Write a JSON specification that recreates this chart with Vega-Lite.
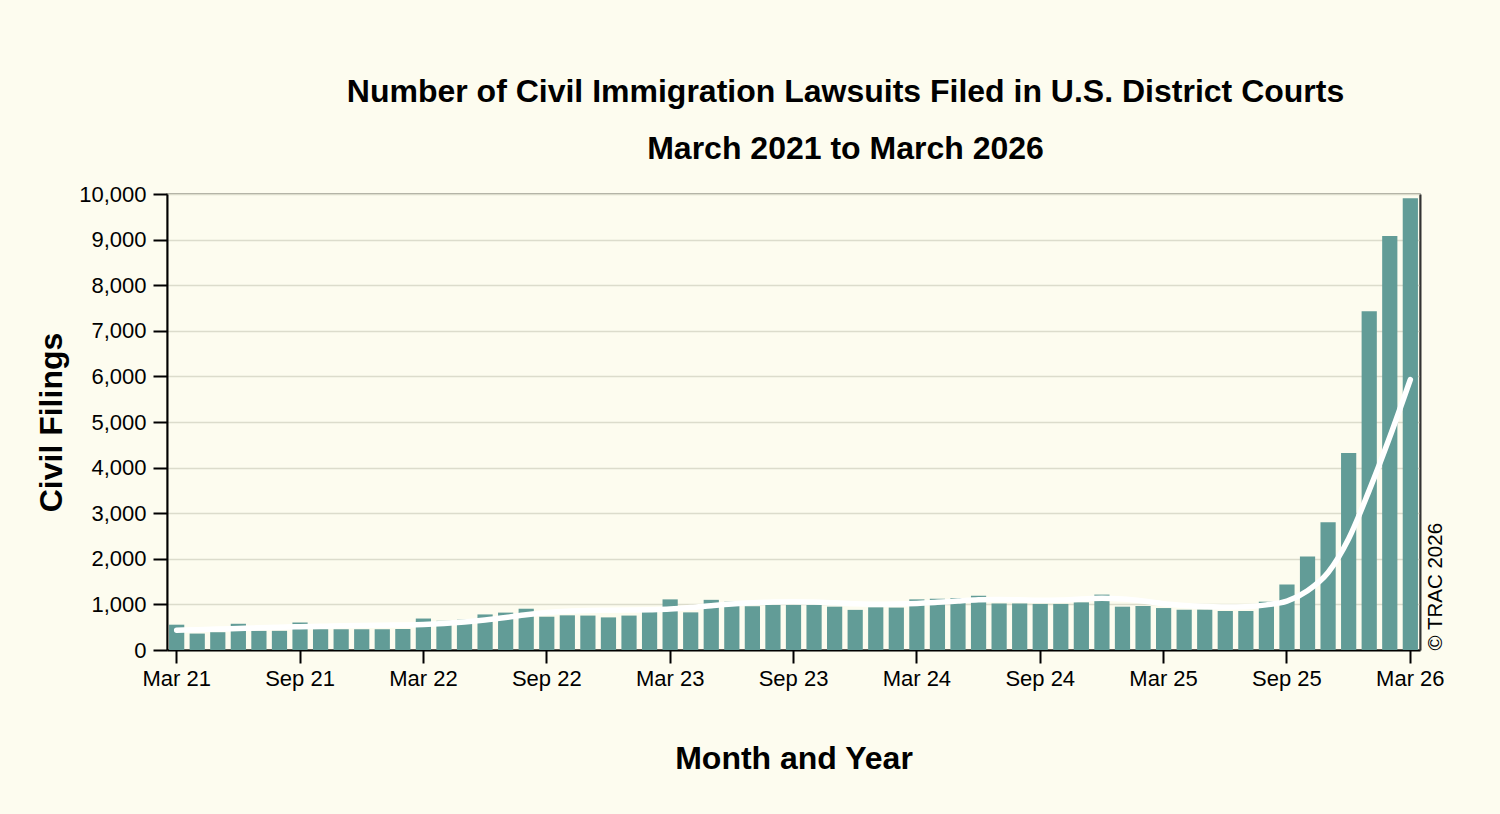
{
  "$schema": "https://vega.github.io/schema/vega-lite/v6.json",
  "autosize": {"type": "none"},
  "padding": {"left": 167, "top": 194, "right": 80, "bottom": 164},
  "width": 1253,
  "height": 456,
  "background": "#fdfcef",
  "title": {
    "text": "Number of Civil Immigration Lawsuits Filed in U.S. District Courts",
    "subtitle": "March 2021 to March 2026",
    "font": "Liberation Sans",
    "fontSize": 32,
    "fontWeight": "bold",
    "color": "#000000",
    "subtitleFont": "Liberation Sans",
    "subtitleFontSize": 32,
    "subtitleFontWeight": "bold",
    "subtitleColor": "#000000",
    "subtitlePadding": 25,
    "anchor": "middle",
    "frame": "group",
    "dx": 52,
    "offset": 17
  },
  "config": {
    "view": {"stroke": "#8a8a80", "strokeWidth": 1.5},
    "axis": {
      "labelFont": "Liberation Sans",
      "titleFont": "Liberation Sans",
      "labelFontSize": 22,
      "labelColor": "#000000",
      "titleColor": "#000000",
      "titleFontSize": 32,
      "titleFontWeight": "bold",
      "domainColor": "#000000",
      "domainWidth": 2,
      "tickColor": "#000000",
      "tickWidth": 2,
      "tickSize": 13,
      "gridColor": "#dcdccc",
      "gridWidth": 1.5
    }
  },
  "data": {
    "values": [
      {"month": "Mar 21", "filings": 555, "trend": 435},
      {"month": "Apr 21", "filings": 360, "trend": 445},
      {"month": "May 21", "filings": 390, "trend": 458},
      {"month": "Jun 21", "filings": 575, "trend": 472},
      {"month": "Jul 21", "filings": 420, "trend": 486},
      {"month": "Aug 21", "filings": 420, "trend": 498},
      {"month": "Sep 21", "filings": 605, "trend": 510},
      {"month": "Oct 21", "filings": 455, "trend": 520},
      {"month": "Nov 21", "filings": 455, "trend": 530},
      {"month": "Dec 21", "filings": 455, "trend": 538},
      {"month": "Jan 22", "filings": 455, "trend": 545},
      {"month": "Feb 22", "filings": 460, "trend": 550},
      {"month": "Mar 22", "filings": 690, "trend": 560},
      {"month": "Apr 22", "filings": 640, "trend": 582},
      {"month": "May 22", "filings": 665, "trend": 615},
      {"month": "Jun 22", "filings": 780, "trend": 658},
      {"month": "Jul 22", "filings": 820, "trend": 712},
      {"month": "Aug 22", "filings": 905, "trend": 772},
      {"month": "Sep 22", "filings": 730, "trend": 820},
      {"month": "Oct 22", "filings": 760, "trend": 852},
      {"month": "Nov 22", "filings": 755, "trend": 866},
      {"month": "Dec 22", "filings": 715, "trend": 872},
      {"month": "Jan 23", "filings": 755, "trend": 877},
      {"month": "Feb 23", "filings": 910, "trend": 884},
      {"month": "Mar 23", "filings": 1110, "trend": 898},
      {"month": "Apr 23", "filings": 825, "trend": 930},
      {"month": "May 23", "filings": 1100, "trend": 972},
      {"month": "Jun 23", "filings": 1060, "trend": 1010},
      {"month": "Jul 23", "filings": 960, "trend": 1038},
      {"month": "Aug 23", "filings": 990, "trend": 1055},
      {"month": "Sep 23", "filings": 990, "trend": 1060},
      {"month": "Oct 23", "filings": 990, "trend": 1052},
      {"month": "Nov 23", "filings": 950, "trend": 1035},
      {"month": "Dec 23", "filings": 880, "trend": 1015},
      {"month": "Jan 24", "filings": 935, "trend": 1005},
      {"month": "Feb 24", "filings": 930, "trend": 1008},
      {"month": "Mar 24", "filings": 1110, "trend": 1020},
      {"month": "Apr 24", "filings": 1125, "trend": 1045},
      {"month": "May 24", "filings": 1140, "trend": 1075},
      {"month": "Jun 24", "filings": 1190, "trend": 1100},
      {"month": "Jul 24", "filings": 1020, "trend": 1108},
      {"month": "Aug 24", "filings": 1020, "trend": 1100},
      {"month": "Sep 24", "filings": 1010, "trend": 1092},
      {"month": "Oct 24", "filings": 1010, "trend": 1098},
      {"month": "Nov 24", "filings": 1045, "trend": 1118},
      {"month": "Dec 24", "filings": 1215, "trend": 1135},
      {"month": "Jan 25", "filings": 950, "trend": 1118},
      {"month": "Feb 25", "filings": 965, "trend": 1075},
      {"month": "Mar 25", "filings": 920, "trend": 1015},
      {"month": "Apr 25", "filings": 885, "trend": 978},
      {"month": "May 25", "filings": 885, "trend": 955},
      {"month": "Jun 25", "filings": 855, "trend": 942},
      {"month": "Jul 25", "filings": 855, "trend": 950},
      {"month": "Aug 25", "filings": 1060, "trend": 990},
      {"month": "Sep 25", "filings": 1435, "trend": 1070},
      {"month": "Oct 25", "filings": 2050, "trend": 1300},
      {"month": "Nov 25", "filings": 2800, "trend": 1700},
      {"month": "Dec 25", "filings": 4320, "trend": 2440},
      {"month": "Jan 26", "filings": 7430, "trend": 3500},
      {"month": "Feb 26", "filings": 9080, "trend": 4670},
      {"month": "Mar 26", "filings": 9905, "trend": 5930}
    ]
  },
  "encoding": {
    "x": {
      "field": "month",
      "type": "ordinal",
      "sort": null,
      "scale": {"paddingInner": 0.26, "paddingOuter": 0.1},
      "axis": {
        "title": "Month and Year",
        "values": ["Mar 21", "Sep 21", "Mar 22", "Sep 22", "Mar 23", "Sep 23", "Mar 24", "Sep 24", "Mar 25", "Sep 25", "Mar 26"],
        "labelAngle": 0,
        "labelPadding": 5,
        "titlePadding": 54,
        "grid": false
      }
    }
  },
  "layer": [
    {
      "mark": {"type": "bar", "color": "#629c97"},
      "encoding": {
        "y": {
          "field": "filings",
          "type": "quantitative",
          "scale": {"domain": [0, 10000], "nice": false},
          "axis": {
            "title": "Civil Filings",
            "values": [0, 1000, 2000, 3000, 4000, 5000, 6000, 7000, 8000, 9000, 10000],
            "format": ",.0f",
            "tickSize": 14,
            "labelPadding": 7,
            "titlePadding": 10,
            "grid": true
          }
        }
      }
    },
    {
      "mark": {"type": "line", "color": "#ffffff", "strokeWidth": 5.5, "strokeCap": "round", "interpolate": "monotone"},
      "encoding": {
        "y": {
          "field": "trend",
          "type": "quantitative",
          "axis": {
            "orient": "right",
            "title": "© TRAC 2026",
            "labels": false,
            "ticks": false,
            "grid": false,
            "domainColor": "#333333",
            "domainWidth": 2,
            "titleFontSize": 20.5,
            "titleFontWeight": "normal",
            "titleAngle": 270,
            "titleBaseline": "top",
            "titleAnchor": "start",
            "titleAlign": "left",
            "titlePadding": 5
          }
        }
      }
    }
  ],
  "resolve": {"axis": {"y": "independent"}}
}
